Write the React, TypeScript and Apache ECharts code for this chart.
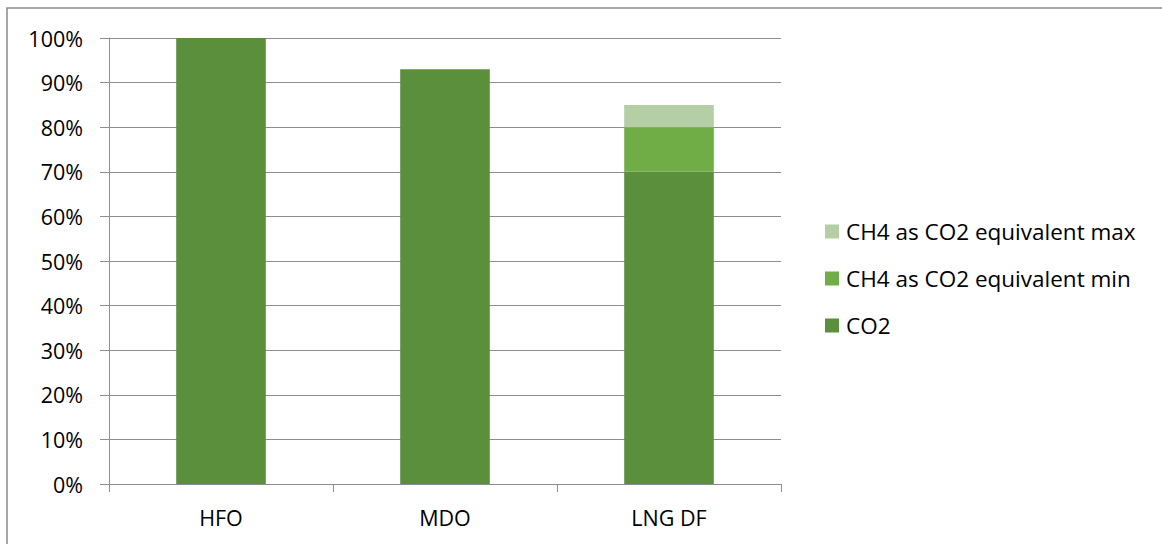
import React, { useEffect, useRef } from "react";
import * as echarts from "echarts";

const categories = ["HFO", "MDO", "LNG DF"];
const co2 = [100, 93, 70];
const ch4Min = [null, null, 10];
const ch4Max = [null, null, 5];
const yTicks = [0, 10, 20, 30, 40, 50, 60, 70, 80, 90, 100];

const FONT = "'Open Sans', sans-serif";
const FS = 21.5;

export default function App() {
  const ref = useRef<HTMLDivElement>(null);
  useEffect(() => {
    if (!ref.current) return;
    const chart = echarts.init(ref.current, undefined, { renderer: "svg" });
    chart.setOption({
      animation: false,
      backgroundColor: "#ffffff",
      textStyle: { fontFamily: FONT },
      graphic: [
        {
          type: "rect",
          shape: { x: 7, y: 8, width: 1300, height: 700 },
          style: { fill: "none", stroke: "#8a8a8a", lineWidth: 1.5 },
          silent: true,
        },
      ],
      grid: { left: 109, right: 381, top: 38, bottom: 60, containLabel: false },
      legend: {
        orient: "vertical",
        left: 825,
        top: 220,
        padding: 0,
        itemWidth: 14,
        itemHeight: 14,
        itemGap: 24,
        icon: "rect",
        data: ["CH4 as CO2 equivalent max", "CH4 as CO2 equivalent min", "CO2"],
        textStyle: { fontFamily: FONT, fontSize: 22.5, color: "#000", padding: [0, 0, 0, 2] },
      },
      xAxis: {
        type: "category",
        data: categories,
        axisLine: { lineStyle: { color: "#8e8e8e", width: 1 } },
        axisTick: { show: true, length: 8, lineStyle: { color: "#8e8e8e" } },
        axisLabel: { fontFamily: FONT, fontSize: FS, color: "#000", margin: 22 },
      },
      yAxis: {
        type: "value",
        min: 0,
        max: 100,
        interval: 10,
        axisLine: { show: true, lineStyle: { color: "#8e8e8e", width: 1 } },
        axisTick: { show: true, length: 9, lineStyle: { color: "#8e8e8e" } },
        splitLine: { lineStyle: { color: "#8e8e8e", width: 1 } },
        axisLabel: {
          fontFamily: FONT,
          fontSize: FS,
          color: "#000",
          margin: 26,
          formatter: (v: number) => (yTicks.includes(v) ? v + "%" : ""),
        },
      },
      series: [
        {
          name: "CO2",
          type: "bar",
          stack: "total",
          barWidth: "40%",
          data: co2,
          itemStyle: { color: "#5b8f3b" },
        },
        {
          name: "CH4 as CO2 equivalent min",
          type: "bar",
          stack: "total",
          barWidth: "40%",
          data: ch4Min,
          itemStyle: { color: "#70ad47" },
        },
        {
          name: "CH4 as CO2 equivalent max",
          type: "bar",
          stack: "total",
          barWidth: "40%",
          data: ch4Max,
          itemStyle: { color: "#b5cea5" },
        },
      ],
    });
    return () => chart.dispose();
  }, []);
  return (
    <div
      ref={ref}
      style={{ position: "fixed", left: 0, top: 0, width: 1162, height: 544 }}
    />
  );
}
